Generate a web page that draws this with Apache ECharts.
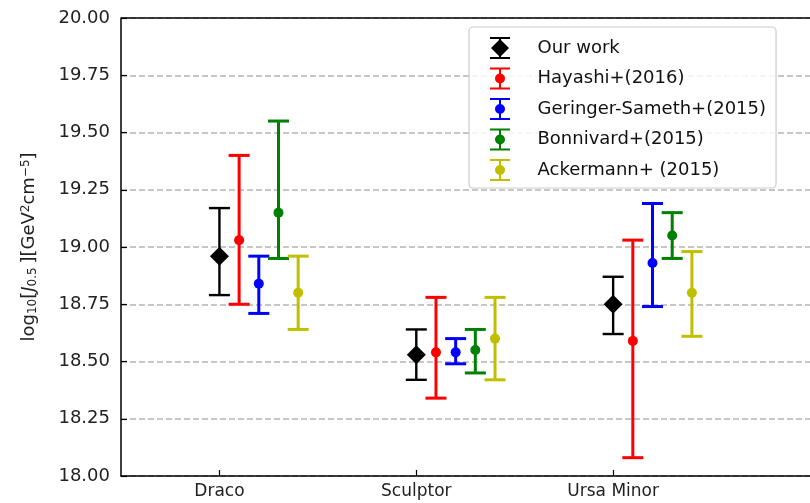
<!DOCTYPE html>
<html>
<head>
<meta charset="utf-8">
<script src="https://cdn.jsdelivr.net/npm/echarts@6/dist/echarts.min.js"></script>
<style>
  html, body { margin: 0; padding: 0; background: #fff; }
  #chart { width: 810px; height: 503px; }
</style>
</head>
<body>
<div id="chart"></div>
<script>
// Dwarf galaxies on the x axis
const dwarfs = ['Draco', 'Sculptor', 'Ursa Minor'];
const dwarfPos = [1, 2, 3];

// log10 J(0.5 deg) estimates: central value, lower and upper error-bar ends
const ourWorkVal  = [18.96, 18.53, 18.75];
const ourWorkLo   = [18.79, 18.42, 18.62];
const ourWorkHi   = [19.17, 18.64, 18.87];

const hayashiVal  = [19.03, 18.54, 18.59];
const hayashiLo   = [18.75, 18.34, 18.08];
const hayashiHi   = [19.40, 18.78, 19.03];

const geringerVal = [18.84, 18.54, 18.93];
const geringerLo  = [18.71, 18.49, 18.74];
const geringerHi  = [18.96, 18.60, 19.19];

const bonnivardVal = [19.15, 18.55, 19.05];
const bonnivardLo  = [18.95, 18.45, 18.95];
const bonnivardHi  = [19.55, 18.64, 19.15];

const ackermannVal = [18.80, 18.60, 18.80];
const ackermannLo  = [18.64, 18.42, 18.61];
const ackermannHi  = [18.96, 18.78, 18.98];

const yTicks = [18.00, 18.25, 18.50, 18.75, 19.00, 19.25, 19.50, 19.75, 20.00];

const studies = [
  { name: 'Our work',              color: '#000000', marker: 'diamond', val: ourWorkVal,   lo: ourWorkLo,   hi: ourWorkHi,   lw: 2.4 },
  { name: 'Hayashi+(2016)',        color: '#ff0000', marker: 'circle',  val: hayashiVal,   lo: hayashiLo,   hi: hayashiHi,   lw: 3 },
  { name: 'Geringer-Sameth+(2015)',color: '#0000ff', marker: 'circle',  val: geringerVal,  lo: geringerLo,  hi: geringerHi,  lw: 3 },
  { name: 'Bonnivard+(2015)',      color: '#008000', marker: 'circle',  val: bonnivardVal, lo: bonnivardLo, hi: bonnivardHi, lw: 3 },
  { name: 'Ackermann+ (2015)',     color: '#bfbf00', marker: 'circle',  val: ackermannVal, lo: ackermannLo, hi: ackermannHi, lw: 3 }
];

const OFFSET = 0.1;   // horizontal shift between studies within a dwarf

// Legend glyphs: capped error bar with the study's marker
const capBar = 'M0,0 H20 V2 H0 Z M0,20 H20 V22 H0 Z M9,0 H11 V22 H9 Z ';
const iconDiamond = 'path://' + capBar + 'M10,2 L19,11 L10,20 L1,11 Z';
const iconCircle  = 'path://' + capBar + 'M10,6 A5,5 0 1,1 10,16 A5,5 0 1,1 10,6 Z';

function makeSeries(s, k) {
  const data = dwarfPos.map((p, i) => [p + k * OFFSET, s.val[i], s.lo[i], s.hi[i]]);
  return {
    type: 'custom',
    name: s.name,
    data: data,
    z: 3 + k,
    renderItem: function (params, api) {
      const x = api.value(0);
      const c = api.coord([x, api.value(1)]);
      const lo = api.coord([x, api.value(2)]);
      const hi = api.coord([x, api.value(3)]);
      const half = 10.5;
      const st = { stroke: s.color, lineWidth: s.lw, fill: null };
      const children = [
        { type: 'line', shape: { x1: c[0], y1: lo[1], x2: c[0], y2: hi[1] }, style: st },
        { type: 'line', shape: { x1: c[0] - half, y1: lo[1], x2: c[0] + half, y2: lo[1] }, style: st },
        { type: 'line', shape: { x1: c[0] - half, y1: hi[1], x2: c[0] + half, y2: hi[1] }, style: st }
      ];
      if (s.marker === 'diamond') {
        const r = 9.5;
        children.push({
          type: 'polygon',
          shape: { points: [[c[0], c[1] - r], [c[0] + r, c[1]], [c[0], c[1] + r], [c[0] - r, c[1]]] },
          style: { fill: s.color }
        });
      } else {
        children.push({ type: 'circle', shape: { cx: c[0], cy: c[1], r: 5 }, style: { fill: s.color } });
      }
      return { type: 'group', children: children };
    }
  };
}

const chart = echarts.init(document.getElementById('chart'), null, { renderer: 'canvas' });

const fontFam = 'DejaVu Sans';

chart.setOption({
  animation: false,
  textStyle: { fontFamily: fontFam },
  grid: { left: 121, width: 702, top: 18, bottom: 27, containLabel: false },
  xAxis: {
    type: 'value',
    min: 0.5,
    max: 4,
    axisLine: { show: true, onZero: false, lineStyle: { color: '#000', width: 1.5 } },
    axisTick: { show: true, inside: true, length: 6, customValues: dwarfPos, lineStyle: { color: '#000', width: 1.2 } },
    axisLabel: {
      show: true,
      customValues: dwarfPos,
      margin: 7,
      fontSize: 17,
      color: '#222',
      fontFamily: fontFam,
      formatter: function (v) { return dwarfs[Math.round(v) - 1] || ''; }
    },
    splitLine: { show: false }
  },
  yAxis: {
    type: 'value',
    min: 18,
    max: 20,
    interval: 0.25,
    name: '{n|log}{s|10}{n|[}{j|J}{s|0.5 }{n|][GeV}{p|2}{n|cm}{p|−5}{n|]}',
    nameLocation: 'middle',
    nameGap: 82,
    nameRotate: 90,
    nameTextStyle: {
      rich: {
        n: { fontSize: 18, color: '#222', fontFamily: fontFam },
        j: { fontSize: 18, color: '#222', fontFamily: fontFam, fontStyle: 'italic' },
        s: { fontSize: 12, color: '#222', fontFamily: fontFam, verticalAlign: 'bottom', padding: [7, 0, 0, 0] },
        p: { fontSize: 12, color: '#222', fontFamily: fontFam, verticalAlign: 'top', padding: [0, 0, 7, 0] }
      }
    },
    axisLine: { show: true, lineStyle: { color: '#000', width: 1.5 } },
    axisTick: { show: true, inside: true, length: 6, lineStyle: { color: '#000', width: 1.2 } },
    axisLabel: {
      margin: 11,
      fontSize: 18,
      color: '#222',
      fontFamily: fontFam,
      customValues: yTicks,
      formatter: function (v) { return v.toFixed(2); }
    },
    splitLine: {
      show: true,
      lineStyle: { color: '#b4b4b4', width: 1.5, type: [6, 3] }
    }
  },
  legend: {
    orient: 'vertical',
    left: 469,
    top: 27,
    padding: [10, 10, 7, 21],
    itemGap: 8.5,
    itemWidth: 21,
    itemHeight: 22,
    backgroundColor: 'rgba(255,255,255,0.85)',
    borderColor: '#cccccc',
    borderWidth: 1.2,
    borderRadius: 4,
    selectedMode: false,
    textStyle: { fontSize: 18, color: '#111', fontFamily: fontFam, width: 300, padding: [0, 0, 0, 22] },
    data: studies.map(s => ({ name: s.name, icon: s.marker === 'diamond' ? iconDiamond : iconCircle, itemStyle: { color: s.color } }))
  },
  series: studies.map(makeSeries)
});

// Top frame line across the plot area, placed through the axis scales
const topY = chart.convertToPixel({ yAxisIndex: 0 }, 20);
const leftX = chart.convertToPixel({ xAxisIndex: 0 }, 0.5);
const rightX = chart.convertToPixel({ xAxisIndex: 0 }, 4);
chart.setOption({
  graphic: [{
    type: 'line',
    shape: { x1: leftX, y1: topY, x2: rightX, y2: topY },
    style: { stroke: '#000', lineWidth: 1.5 },
    z: 10
  }]
});
</script>
</body>
</html>
